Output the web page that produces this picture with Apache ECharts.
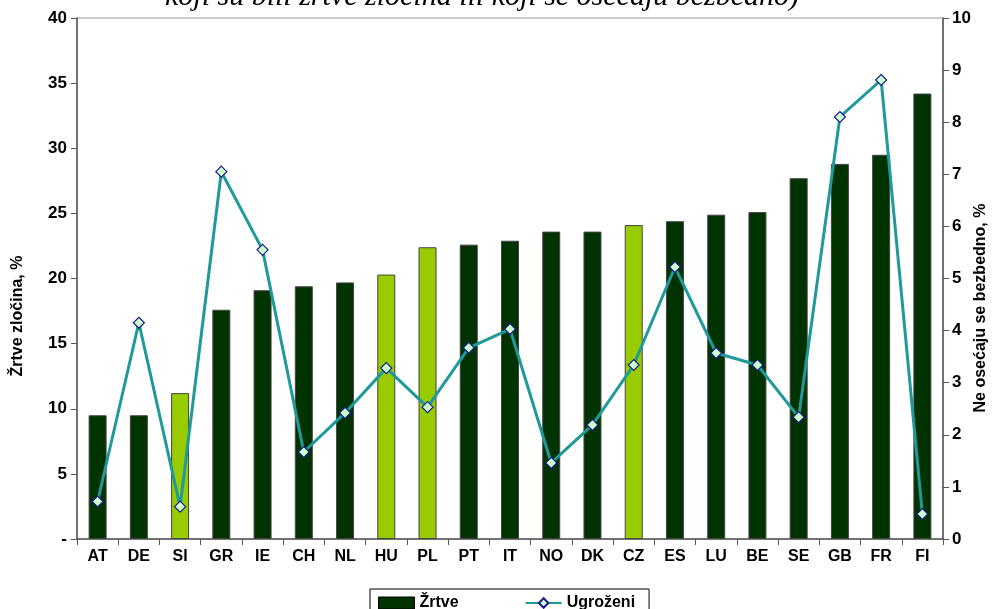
<!DOCTYPE html>
<html>
<head>
<meta charset="utf-8">
<script src="https://cdn.jsdelivr.net/npm/echarts@6/dist/echarts.min.js"></script>
<style>
  html, body { margin: 0; padding: 0; background: #fff; }
  #chart { width: 992px; height: 609px; }
</style>
</head>
<body>
<div id="chart"></div>
<script>
var countries = ['AT', 'DE', 'SI', 'GR', 'IE', 'CH', 'NL', 'HU', 'PL', 'PT', 'IT',
                 'NO', 'DK', 'CZ', 'ES', 'LU', 'BE', 'SE', 'GB', 'FR', 'FI'];
// žrtve zločina, % (leva osa)
var zrtve = [9.5, 9.5, 11.2, 17.6, 19.1, 19.4, 19.7, 20.3, 22.4, 22.6, 22.9,
             23.6, 23.6, 24.1, 24.4, 24.9, 25.1, 27.7, 28.8, 29.5, 34.2];
// ne osećaju se bezbedno, % (desna osa)
var ugrozeni = [0.72, 4.15, 0.62, 7.05, 5.55, 1.67, 2.42, 3.28, 2.53, 3.67, 4.03,
                1.46, 2.19, 3.34, 5.22, 3.57, 3.34, 2.34, 8.1, 8.81, 0.48];
// nove članice su svetlije
var highlighted = ['SI', 'HU', 'PL', 'CZ'];

var darkGreen = '#003300';
var lightGreen = '#99cc00';
var boldFont = { fontFamily: 'Liberation Sans', fontWeight: 'bold', color: '#000' };

var chart = echarts.init(document.getElementById('chart'));
chart.setOption({
  animation: false,
  title: {
    text: 'koji su bili žrtve zločina ili koji se osećaju bezbedno)',
    left: 160,
    top: -23,
    textStyle: {
      fontFamily: 'Liberation Serif',
      fontStyle: 'italic',
      fontWeight: 'normal',
      fontSize: 30,
      color: '#000'
    }
  },
  // nazivi osa (u originalu su malo ispod sredine)
  graphic: [
    {
      type: 'text', x: 18, y: 316, rotation: Math.PI / 2,
      style: Object.assign({ text: 'Žrtve zločina, %', fontSize: 16, align: 'center', verticalAlign: 'middle' }, boldFont, { fill: '#000' })
    },
    {
      type: 'text', x: 981, y: 308, rotation: Math.PI / 2,
      style: Object.assign({ text: 'Ne osećaju se bezbedno, %', fontSize: 16, align: 'center', verticalAlign: 'middle' }, boldFont, { fill: '#000' })
    }
  ],
  grid: {
    left: 77,
    right: 49,
    top: 18,
    bottom: 70,
    show: true,
    borderColor: '#999',
    borderWidth: 1
  },
  legend: {
    left: 370,
    top: 589,
    itemGap: 66,
    itemWidth: 36,
    itemHeight: 12,
    padding: [6, 14, 6, 8],
    borderColor: '#000',
    borderWidth: 1,
    textStyle: Object.assign({ fontSize: 16 }, boldFont),
    data: [
      { name: 'Žrtve', icon: 'rect', itemStyle: { color: darkGreen, borderColor: '#000', borderWidth: 1 } },
      { name: 'Ugroženi' }
    ]
  },
  xAxis: {
    type: 'category',
    data: countries,
    axisLine: { lineStyle: { color: '#555', width: 1.5 } },
    axisTick: { show: true, length: 6, lineStyle: { color: '#555' } },
    axisLabel: Object.assign({ fontSize: 16, margin: 10 }, boldFont)
  },
  yAxis: [
    {
      type: 'value',
      min: 0,
      max: 40,
      interval: 5,
      axisLine: { show: true, lineStyle: { color: '#555', width: 1.5 } },
      axisTick: { show: true, length: 6, lineStyle: { color: '#555' } },
      splitLine: { show: false },
      axisLabel: Object.assign({
        fontSize: 17, margin: 10,
        formatter: function (v) { return v === 0 ? '-' : v; }
      }, boldFont)
    },
    {
      type: 'value',
      min: 0,
      max: 10,
      interval: 1,
      axisLine: { show: true, lineStyle: { color: '#555', width: 1.5 } },
      axisTick: { show: true, length: 6, lineStyle: { color: '#555' } },
      splitLine: { show: false },
      axisLabel: Object.assign({ fontSize: 17, margin: 9 }, boldFont)
    }
  ],
  series: [
    {
      name: 'Žrtve',
      type: 'bar',
      yAxisIndex: 0,
      barWidth: 18,
      itemStyle: { color: darkGreen, borderColor: '#444', borderWidth: 1 },
      data: zrtve.map(function (v, i) {
        return highlighted.indexOf(countries[i]) >= 0
          ? { value: v, itemStyle: { color: lightGreen } }
          : v;
      })
    },
    {
      name: 'Ugroženi',
      type: 'line',
      yAxisIndex: 1,
      symbol: 'diamond',
      symbolSize: 11,
      lineStyle: { color: '#1f9999', width: 3 },
      itemStyle: { color: '#ccffcc', borderColor: '#1a1a8c', borderWidth: 1.2 },
      data: ugrozeni
    }
  ]
});
</script>
</body>
</html>
